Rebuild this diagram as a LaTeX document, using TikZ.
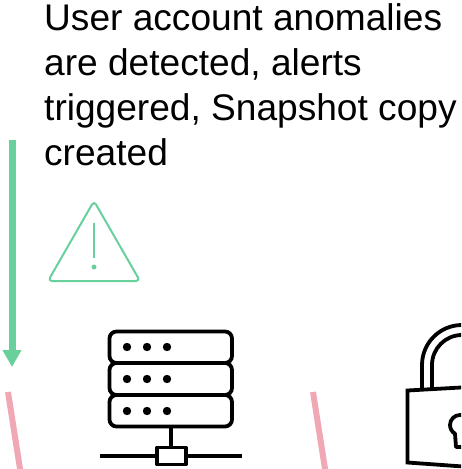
\documentclass[tikz,border=0pt]{standalone}
\usepackage{fontspec}
\setmainfont{Liberation Sans}
\usetikzlibrary{arrows.meta}
\definecolor{grn}{HTML}{68D19B}
\definecolor{pnk}{HTML}{F0A8B4}
\tikzset{
  icon/.style={draw=black,line width=3.8pt,line join=round},
  wedge/.style={draw=pnk,line width=6pt},
  warn/.style={draw=grn,line width=2pt,line join=round},
  caption/.style={anchor=north west,inner sep=0pt,align=left,font=\fontsize{37.1}{45}\selectfont}
}
\begin{document}
\begin{tikzpicture}[x=1pt,y=-1pt]
\useasboundingbox (0,0) rectangle (461,469);
\clip (0,0) rectangle (461,469);
\node[caption] (cap) at (44,3.5) {User account anomalies\\are detected, alerts\\triggered, Snapshot copy\\created};
% green arrow
\coordinate (arrowtop) at (12,140);
\coordinate (arrowend) at (12,367);
\draw[draw=grn,line width=7pt,-{Triangle[length=17pt,width=18pt,fill=grn]}] (arrowtop) -- (arrowend);
% warning triangle
\draw[warn,rounded corners=4pt] (94,201) -- (140,281) -- (48,281) -- cycle;
\draw[warn] (94,223) -- (94,258);
\fill[grn] (94,267) circle (2.5);
% pink
\draw[wedge] (8,392) -- (20.5,472);
\draw[wedge] (313,392) -- (325.5,472);
% server
\draw[icon,rounded corners=7pt] (109.5,331.5) rectangle (232,363);
\draw[icon,rounded corners=7pt] (109.5,363) rectangle (232,395);
\draw[icon,rounded corners=7pt] (109.5,395) rectangle (232,426.5);
\foreach \y in {347,379,411} \foreach \x in {127,147,167} \fill (\x,\y) circle (4.2);
\draw[icon] (171,426.5) -- (171,447);
\draw[icon] (100,456) -- (157,456);
\draw[icon] (186,456) -- (242,456);
\draw[icon,fill=white] (157,447.5) rectangle (186,464.5);
% padlock
\draw[icon,line join=miter] (470,387) -- (407.5,390.5) -- (407.5,462.5) -- (470,467);
\draw[icon] (422,389) -- (422,365) arc[start angle=180,end angle=270,radius=40] -- (470,325);
\draw[icon] (432,388.5) -- (432,365) arc[start angle=180,end angle=270,radius=30] -- (470,335);
\draw[icon] (470,415) -- (460,415) arc[start angle=270,end angle=120,radius=10] -- (456,447) -- (470,447);
\end{tikzpicture}
\end{document}
